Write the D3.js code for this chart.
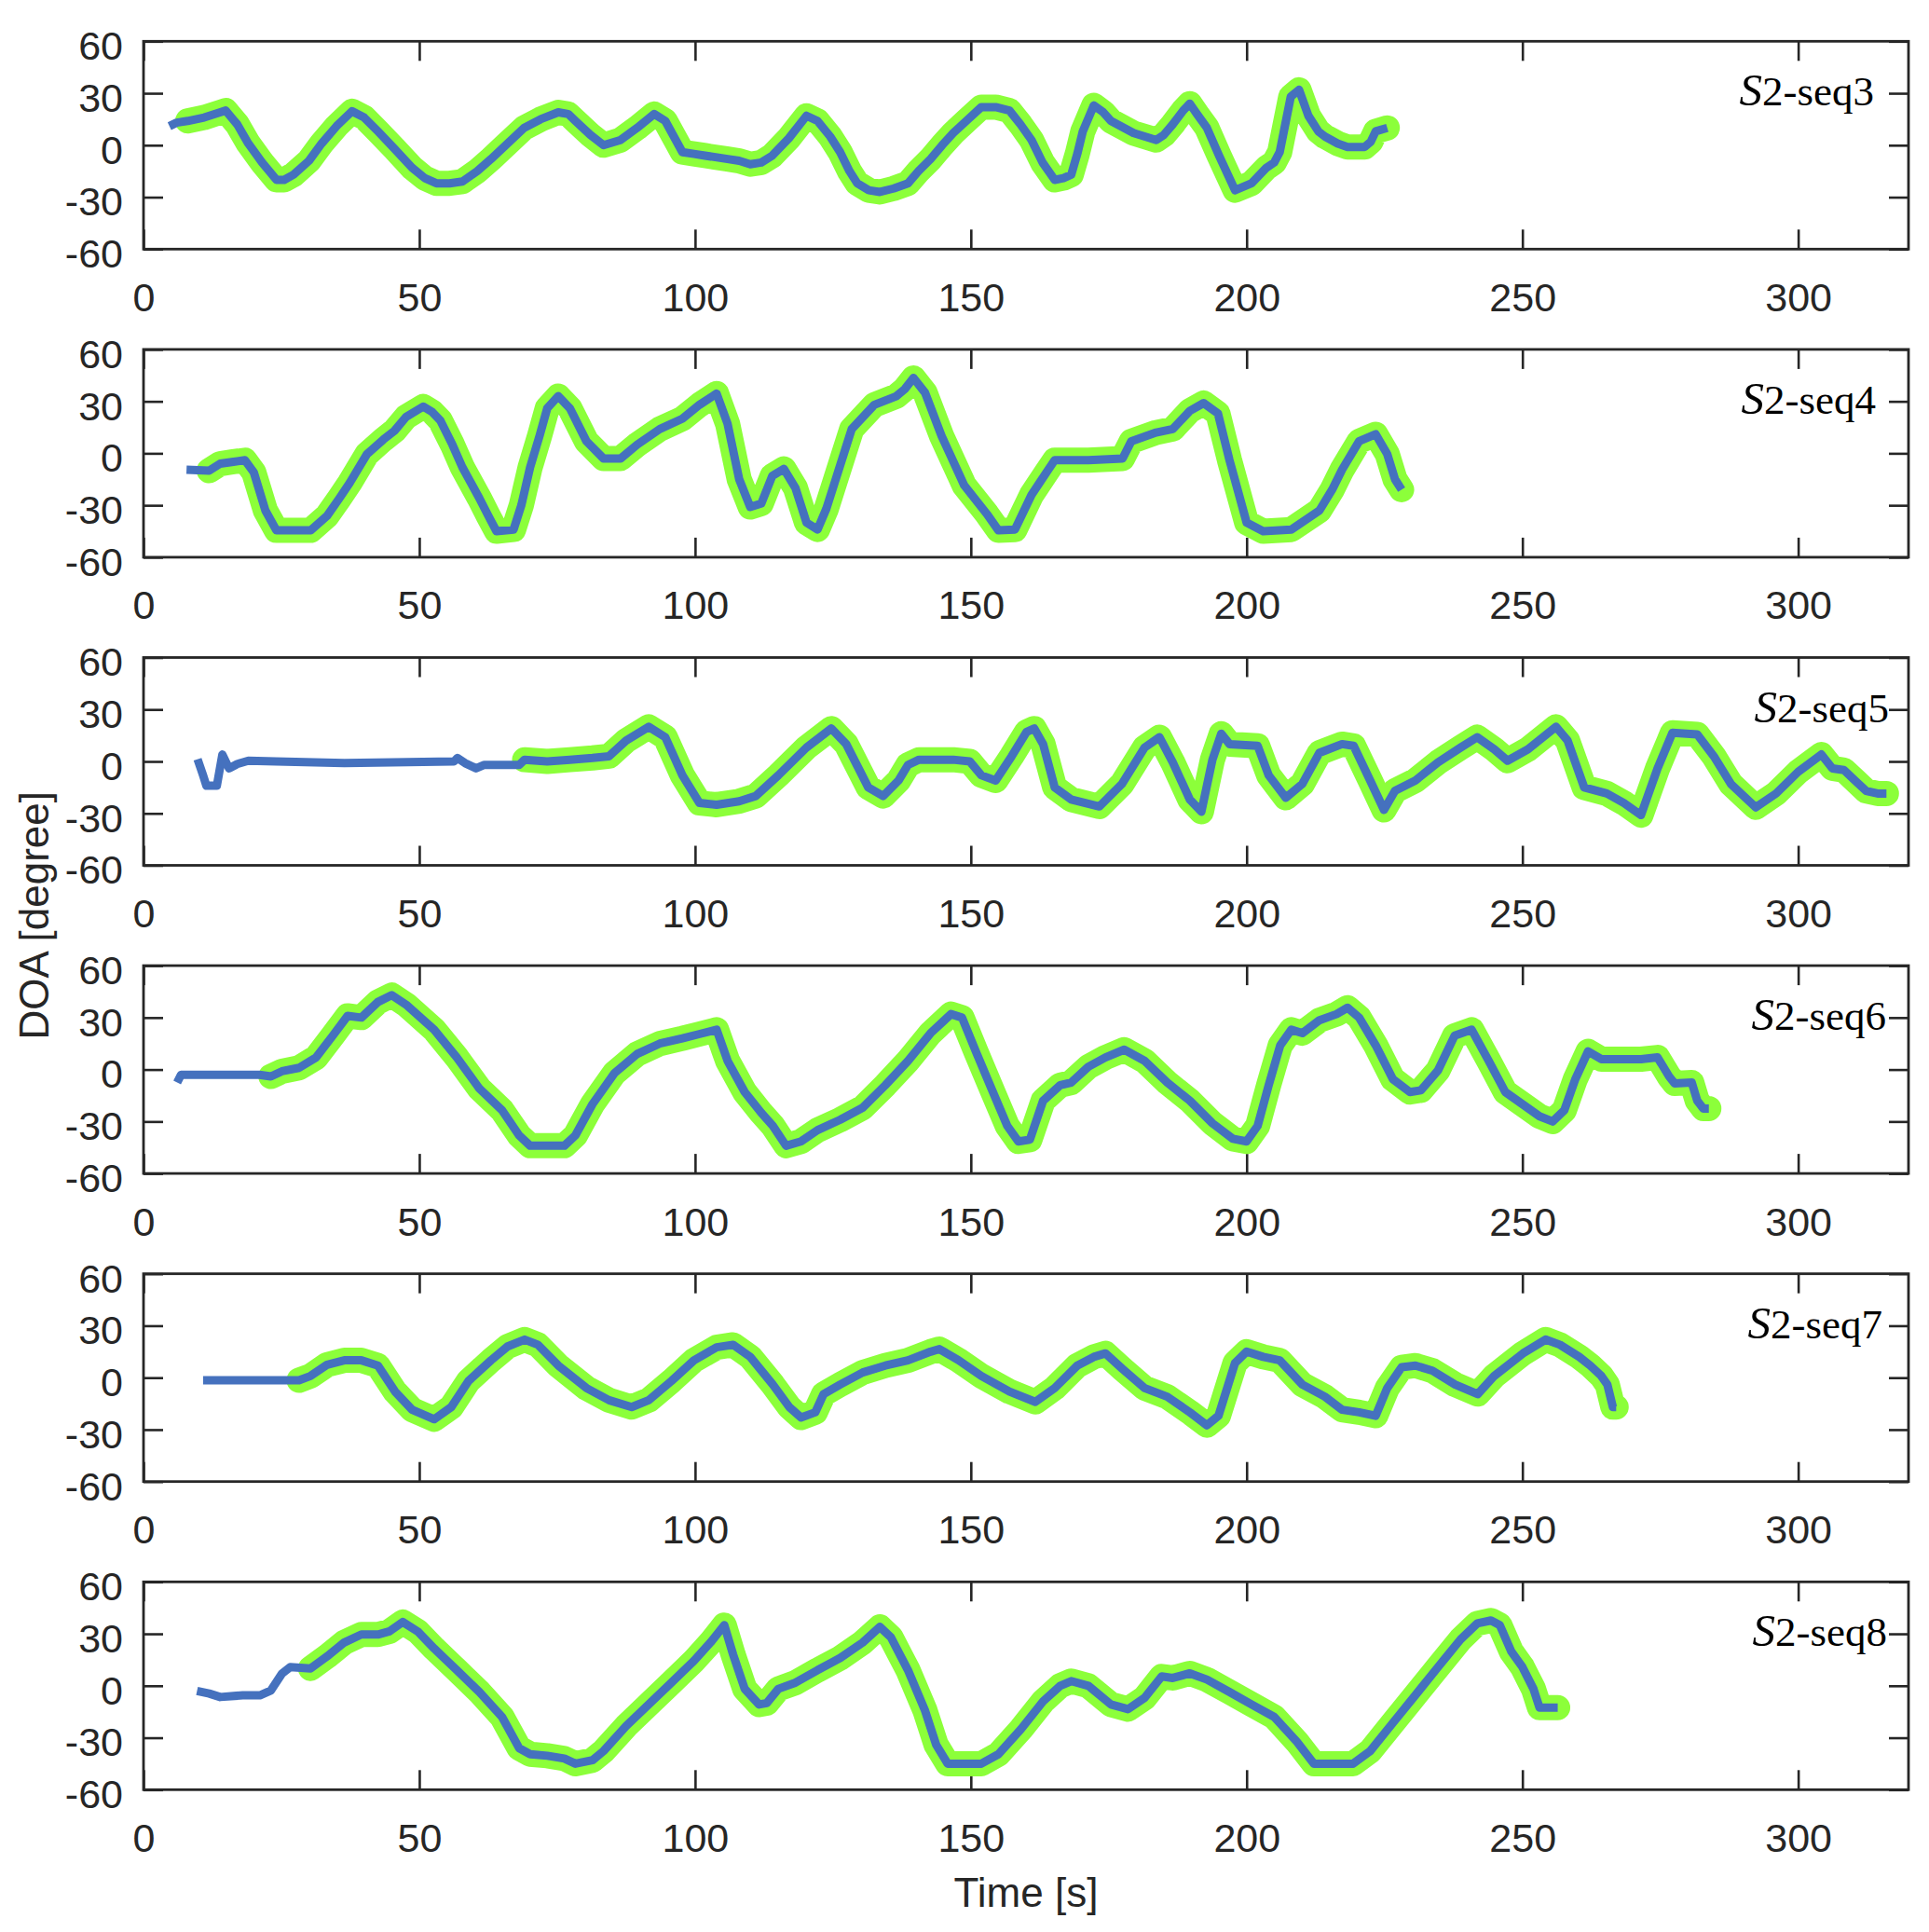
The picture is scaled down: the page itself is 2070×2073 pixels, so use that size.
<!DOCTYPE html>
<html>
<head>
<meta charset="utf-8">
<script src="https://cdn.jsdelivr.net/npm/d3@7"></script>
<style>
  html, body { margin: 0; padding: 0; background: #fff; }
</style>
</head>
<body>
<div id="chart"></div>
<script>
(function(){
    // data: [time (s), DOA (degree)] per sequence
    const seqNames = ['2-seq3', '2-seq4', '2-seq5', '2-seq6', '2-seq7', '2-seq8'];

    const seq3 = [[4.7,11],[6,13],[8,14],[11,16],[13.9,19],[14.9,20],[17,12],[19,1],[21.5,-10],[24.1,-20],[25.5,-20],[27.2,-17],[30,-9],[32.3,1],[35,11],[37.8,19.6],[40,16],[42.5,8],[45.5,-2],[48.7,-13],[51,-19],[53.1,-22],[55.5,-22],[57.8,-21],[60.5,-15],[63,-8],[66,1],[69,10],[72,15],[75.2,19],[77,18],[78.3,14],[81,6],[83.4,0],[86.5,3],[89.5,10],[92.6,18],[94.6,14],[96.5,3],[97.7,-4],[99.8,-5],[101.8,-6],[105.9,-8],[108,-9],[110,-11],[112,-10],[114,-6],[117,4],[120.2,17],[122.2,14],[124.5,5],[126.3,-4],[128,-15],[129.4,-22],[131.5,-26],[133.5,-27],[136,-25],[138.6,-22],[140.5,-15],[142.7,-8],[144.8,0],[146.8,7],[149.5,15],[151.9,22],[154.5,22],[157,20],[159,12],[161,3],[163,-10],[165.2,-20],[166.8,-19],[168.2,-17],[169.3,-5],[170.3,8],[172.3,23],[174,19],[175.4,14],[179.5,7],[183.6,3],[185,6],[186.6,12],[188.5,20],[189.7,24],[191,18],[192.8,10],[195,-6],[197.9,-26],[200.9,-22],[203.6,-13],[205,-10],[206,-4],[207,12],[208,28],[209.5,32],[211.2,17],[213,8],[214.2,5],[216.5,1],[218.3,-1],[221.4,-1],[222.5,2],[223.4,8],[225.5,10]];

    const seq4 = [[7.8,-9.5],[11.9,-10],[13.9,-6],[16,-5],[18.4,-4],[20,-11],[22.1,-33],[24.1,-44.5],[30.3,-44.5],[33.3,-36],[35.5,-26],[37.4,-17],[40.5,-0.5],[43.5,8],[45.5,13],[47.6,21],[50.7,27],[52.3,24],[53.8,19],[56,5],[57.8,-8],[60.9,-26],[62.5,-36],[64,-45],[67.1,-44],[68.5,-30],[70.1,-8],[71.8,10],[73.2,26],[75.2,33],[77.3,26],[80.3,7],[83.4,-3],[86.5,-3],[89.5,5],[93.6,14],[97.7,20],[100.8,28],[103.9,34.5],[105.9,17],[108,-15],[110,-31],[112,-29],[114,-13],[116.1,-9],[118.2,-20],[120.2,-40],[122.2,-44],[123.8,-32],[125.3,-17],[128.4,14],[132.5,28],[136.5,33],[138,37],[139.6,43.5],[141.7,35],[144.7,10],[148.8,-18.5],[152.9,-35],[155,-44.5],[158,-44],[161,-24],[163.5,-12],[165.2,-4],[171.3,-4],[177.5,-3],[179.1,7],[183.6,12],[186.6,14],[189.7,24.5],[192.2,29],[194.8,23],[196.9,-4],[200,-40],[203,-45],[208.1,-44],[213.2,-33],[215.5,-21],[217.3,-9.5],[220.4,7],[223.4,11],[225.5,-0.5],[226.9,-15],[228.1,-21]];

    const seq5 = [[9.8,1.3],[10.8,-8],[11.4,-14],[13.3,-14],[14.3,4],[15.5,-4],[17,-1.5],[19,0.4],[24,0],[36.4,-1],[45,-0.5],[56.3,0],[56.9,2],[58.3,-1],[60.3,-4],[61.8,-2],[68.1,-2],[69.1,1],[73.2,0],[77.3,1],[81.4,2],[84.4,3],[87.5,12],[91.6,20],[94.6,14],[97.7,-8],[100.8,-24],[103.9,-25],[108,-23],[111,-20],[115.1,-8],[120.2,8],[124.7,19],[127.4,10],[131.4,-15],[134.1,-20],[136.9,-11],[138.6,-2],[140.6,1],[146.8,1],[149.8,0],[151.9,-8],[154.5,-11],[157.4,3],[160.1,17],[161.5,19],[163.1,10],[165.2,-15],[168.2,-22],[173.3,-26],[177.4,-13],[181.5,8],[184.2,14],[186.6,-0.5],[189.7,-22],[191.8,-29],[193.8,1],[195.4,16],[196.9,10],[202,9],[204,-8],[207.1,-21],[210.1,-13],[213.2,5],[217.3,10],[219.4,9],[222.4,-11],[224.9,-28],[226.9,-17],[230.6,-11],[234.7,-0.5],[238.8,8],[241.8,14],[244.9,7],[247.3,0.4],[251,7],[256.1,20],[258.2,12],[261.2,-15],[265.3,-18.5],[268.4,-24],[271.5,-31],[274.5,-4],[277.2,16.5],[281.7,15.6],[284.7,3],[287.8,-13],[292.3,-26.5],[296,-18.5],[300,-6],[304.2,4],[306.2,-4],[308.3,-5],[310.3,-11],[312.3,-17],[314.4,-18.5],[316,-18.5]];

    const seq6 = [[6.1,-7.5],[6.8,-3],[9.8,-3],[16,-3],[21,-3],[23.1,-4],[25.1,-1],[28.2,1],[31.3,7],[34.3,19.5],[37,31],[39.5,30],[42.5,39],[45,43],[47.6,37.5],[52.7,23],[56.8,7],[60.9,-11],[65,-23.5],[68.1,-38],[70.1,-44],[76.3,-44],[78.3,-38],[81.4,-20],[85.4,-2],[89.5,9],[93.6,15],[97.7,18],[100.8,20.5],[103.9,23],[105.9,5],[109,-13],[112,-25],[114.1,-32.5],[116.5,-44],[119.2,-41.5],[122.2,-35],[126.3,-29],[130.4,-22],[134.5,-9],[138.6,5],[142.7,21],[146.4,32],[148.4,30],[150.9,10.5],[154,-13],[156.6,-32.5],[158.6,-41.5],[160.7,-40.5],[163.1,-18],[166.2,-9],[168.2,-7.5],[171.3,1.6],[174.4,7],[177.8,11.5],[181.5,5],[185.6,-7.5],[189.7,-18],[193.8,-31],[197.5,-40],[200,-41.5],[202,-32.5],[204,-9],[206.1,14],[208.1,23],[210.1,21],[213.2,28.5],[216.3,32],[218.3,35.7],[220.4,30],[223.4,14],[226.5,-5.5],[229.6,-13],[231.6,-12],[234.7,-0.5],[237.7,19.5],[240.8,23],[243.9,5],[246.9,-13],[250,-20],[253.1,-27],[255.5,-30],[257.6,-23.5],[259.6,-5.5],[261.9,10.5],[264.3,6],[271.5,6],[274.5,7],[276.6,-4],[277.6,-8],[280.7,-7.5],[281.7,-18],[282.8,-22.5],[283.8,-22.5]];

    const seq7 = [[10.8,-1.5],[28.2,-1.5],[30.3,1],[33.3,7.5],[36.4,10],[39.5,10],[42.5,7],[45.6,-8],[48.7,-18.5],[52.7,-24],[55.8,-17],[58.9,-2],[63,10],[66,18],[69.1,22],[71.5,19],[75.2,7],[80.3,-6],[84.4,-13],[88.5,-17],[91.6,-13],[95.7,-2],[99.8,10],[103.9,17.5],[106.9,19],[110,12],[114.1,-4],[117.1,-17],[119.2,-23],[121.8,-20],[123.3,-9.5],[126.3,-4],[130.4,3],[134.5,7],[138.6,10],[142.7,15],[144.3,16.5],[147.8,10],[151.9,1],[157,-8],[161.7,-14],[165.2,-6],[169.3,7],[172.3,12],[174.4,14],[177.5,5],[181.5,-6],[185.6,-11],[189.7,-20],[192.8,-27.5],[194.9,-22],[197.9,8.5],[200,15],[203,12],[206,10],[210.1,-4],[214.2,-11],[217.3,-18.5],[220.4,-20],[223.4,-22],[225.5,-6],[228.1,6],[230.6,7],[233.7,4],[237.8,-4],[241.9,-9.5],[244.9,1],[250.1,14],[254.2,22],[256.8,19],[260.3,12],[262.3,7],[264.3,1],[265.4,-4],[266.4,-17],[267,-17]];

    const seq8 = [[9.7,-3],[11.9,-4.5],[13.9,-6.5],[18,-5.5],[21.1,-5.5],[23.1,-2.7],[25.1,7],[26.6,10.8],[30.3,10],[33.3,17],[36.4,25],[39.5,29.6],[42.5,29.6],[44.6,31.4],[47,36.8],[49.7,31.4],[52.7,21.5],[56.8,9],[60.9,-3.6],[65,-18],[68.1,-36],[70.1,-39.5],[73.2,-40.4],[76.3,-42],[78.3,-45],[81.4,-43],[83.4,-37.7],[87.5,-23.3],[91.6,-10.8],[95.7,1.8],[99.8,14.4],[102.8,25],[105.3,35],[106.9,18],[109,-1.8],[111.6,-10.8],[113,-10],[115.1,-1.8],[118.2,1.8],[122.2,9],[126.3,16],[130.4,25],[133.5,34],[135.5,28],[138.6,9],[141.7,-14.4],[143.7,-34],[145.8,-45],[151.9,-45],[155,-39.5],[159.1,-25],[163.1,-9],[166.2,0],[168.2,2.7],[171.3,0],[175.4,-10.8],[178.5,-13.5],[181.5,-7],[184.6,5.4],[186.6,4.5],[189.7,7.2],[192.8,3.6],[196.9,-3.6],[200.9,-10.8],[205,-18],[209.1,-32.3],[212.2,-45],[219.3,-45],[222.4,-37.7],[226.5,-21.5],[230.6,-5.4],[234.7,10.8],[238.8,26.8],[241.8,36],[244.3,37.7],[245.9,35],[248,19.7],[250,10.8],[252,-1.8],[253.1,-12.6],[256.4,-12.6]];

    const seqData = [seq3, seq4, seq5, seq6, seq7, seq8];

    // time (s) from which the green (tracked) trace is shown
    const trackStart = [7.8, 8.2, 69.1, 23.1, 28.2, 27.2];

    const xTicks = [0, 50, 100, 150, 200, 250, 300];
    const yTicks = [-60, -30, 0, 30, 60];

    // layout constants
    var WIDTH        = 2070,
        HEIGHT       = 2073,
        PLOT_LEFT    = 154,    // left edge of every panel
        PLOT_RIGHT   = 2048,   // right edge of every panel
        PANEL_TOP    = 44.3,   // top of first panel
        PANEL_STEP   = 330.6,  // distance between panel tops
        PANEL_H      = 223,    // panel height
        TICK_LEN     = 21,     // inward tick length
        AXIS_COLOR   = '#262626',
        BLUE         = '#4571be',
        GREEN        = '#8cff3a';

    // right end of each panel label (labels are not aligned in the original)
    var LABEL_RIGHT = [2011, 2013, 2027, 2024, 2020, 2025];

    // plain hyphen for negatives, like the original
    var plain = function(d){ return String(d); };

    var svg = d3.select('#chart')
        .append('svg')
        .attr('width', WIDTH)
        .attr('height', HEIGHT)
        .style('font-family', '"Liberation Sans", Arial, Helvetica, sans-serif');

    var x = d3.scaleLinear()
        .domain([0, 320])
        .range([0, PLOT_RIGHT - PLOT_LEFT]);

    var y = d3.scaleLinear()
        .domain([-60, 60])
        .range([PANEL_H, 0]);

    var line = d3.line()
        .x(function(d){ return x(d[0]); })
        .y(function(d){ return y(d[1]); });

    seqData.forEach(function(data, i){
        var g = svg.append('g')
            .attr('transform', 'translate(' + PLOT_LEFT + ',' + (PANEL_TOP + i * PANEL_STEP) + ')');

        // bottom axis with labels
        var xAxis = g.append('g')
            .attr('transform', 'translate(0,' + PANEL_H + ')')
            .call(d3.axisBottom(x).tickValues(xTicks).tickFormat(plain)
                .tickSize(-TICK_LEN).tickPadding(36));

        // left axis with labels
        var yAxis = g.append('g')
            .call(d3.axisLeft(y).tickValues(yTicks).tickFormat(plain)
                .tickSize(-TICK_LEN).tickPadding(22));
        yAxis.selectAll('text').attr('dy', '0.45em');

        // top and right ticks (box)
        var xTop = g.append('g')
            .call(d3.axisTop(x).tickValues(xTicks).tickSize(-TICK_LEN).tickFormat(''));
        var yRight = g.append('g')
            .attr('transform', 'translate(' + x(320) + ',0)')
            .call(d3.axisRight(y).tickValues(yTicks).tickSize(-TICK_LEN).tickFormat(''));

        [xAxis, yAxis, xTop, yRight].forEach(function(a){
            a.select('.domain').remove();
            a.selectAll('line').attr('stroke', AXIS_COLOR).attr('stroke-width', 2.6);
            a.selectAll('text')
                .attr('fill', AXIS_COLOR)
                .style('font-size', '43px');
        });

        // green trace (tracked part)
        var tracked = data.filter(function(d){ return d[0] >= trackStart[i]; });
        g.append('path')
            .datum(tracked)
            .attr('d', line)
            .attr('fill', 'none')
            .attr('stroke', GREEN)
            .attr('stroke-width', 27)
            .attr('stroke-linejoin', 'round')
            .attr('stroke-linecap', 'round');

        // blue trace (full estimate)
        g.append('path')
            .datum(data)
            .attr('d', line)
            .attr('fill', 'none')
            .attr('stroke', BLUE)
            .attr('stroke-width', 9)
            .attr('stroke-linejoin', 'round');

        // frame
        g.append('rect')
            .attr('x', 0)
            .attr('y', 0)
            .attr('width', x(320))
            .attr('height', PANEL_H)
            .attr('fill', 'none')
            .attr('stroke', AXIS_COLOR)
            .attr('stroke-width', 2.8);

        // panel label, e.g. S2-seq3
        var label = g.append('text')
            .attr('x', LABEL_RIGHT[i] - PLOT_LEFT)
            .attr('y', 69)
            .attr('text-anchor', 'end')
            .attr('fill', '#000')
            .style('font-family', '"Liberation Serif", "DejaVu Serif", serif')
            .style('font-size', '45px');
        label.append('tspan')
            .style('font-style', 'italic')
            .style('font-size', '49px')
            .text('S');
        label.append('tspan')
            .text(seqNames[i]);
    });

    // axis titles
    svg.append('text')
        .attr('transform', 'translate(36,' + (PANEL_TOP + (5 * PANEL_STEP + PANEL_H) / 2) + ') rotate(-90)')
        .attr('text-anchor', 'middle')
        .attr('dominant-baseline', 'central')
        .attr('fill', AXIS_COLOR)
        .style('font-size', '44px')
        .text('DOA [degree]');

    svg.append('text')
        .attr('x', PLOT_LEFT + x(160))
        .attr('y', 2046)
        .attr('text-anchor', 'middle')
        .attr('fill', AXIS_COLOR)
        .style('font-size', '44px')
        .text('Time [s]');
})();
</script>
</body>
</html>
